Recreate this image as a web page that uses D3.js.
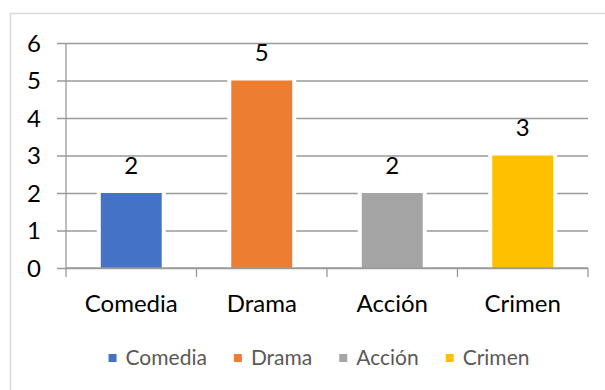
<!DOCTYPE html>
<html>
<head>
<meta charset="utf-8">
<script src="https://cdn.jsdelivr.net/npm/d3@7"></script>
<style>
  html, body { margin: 0; padding: 0; background: #fff; }
  svg { display: block; }
  text { font-family: Lato, "Open Sans", sans-serif; }
</style>
</head>
<body>
<svg id="chart" width="605" height="390"></svg>
<script>
// Genres and their counts
const categories = ["Comedia", "Drama", "Acción", "Crimen"];
const values = [2, 5, 2, 3];
const colors = ["#4472C4", "#ED7D31", "#A5A5A5", "#FFC000"];
const yTicks = [0, 1, 2, 3, 4, 5, 6];

const svg = d3.select("#chart");
const W = 605, H = 390;
const plot = { left: 66, right: 588, top: 43, bottom: 268 };

// Chart frame
svg.append("rect")
  .attr("x", 10.5).attr("y", 13.5)
  .attr("width", W + 20).attr("height", H + 20)
  .attr("fill", "#fff")
  .attr("stroke", "#d9d9d9").attr("stroke-width", 1.5);

const x = d3.scaleBand()
  .domain(categories)
  .range([plot.left, plot.right])
  .paddingInner(0.533)
  .paddingOuter(0.2665);

const y = d3.scaleLinear().domain([0, 6]).range([plot.bottom, plot.top]);

const gridColor = "#9a9a9a";

// Horizontal gridlines with left tick stubs and value labels
const yAxis = d3.axisLeft(y)
  .tickValues(yTicks)
  .tickSize(-(plot.right - plot.left) - 9)
  .tickPadding(0)
  .tickFormat(d3.format("d"));

const gy = svg.append("g")
  .attr("transform", `translate(${plot.right},0)`)
  .call(yAxis);
gy.select(".domain").remove();
gy.selectAll(".tick line")
  .attr("x1", 0)
  .attr("x2", -(plot.right - plot.left) - 9)
  .attr("stroke", gridColor).attr("stroke-width", 1.3);
gy.selectAll(".tick text").remove();

svg.append("g").selectAll("text")
  .data(yTicks)
  .join("text")
  .attr("x", 41)
  .attr("y", d => y(d) + 8.5)
  .attr("text-anchor", "end")
  .attr("font-size", 24)
  .attr("fill", "#000")
  .text(d => d);

// Bars: white halo behind, then coloured fill
const bars = svg.append("g");
bars.selectAll("rect.halo")
  .data(values)
  .join("rect")
  .attr("class", "halo")
  .attr("x", (d, i) => x(categories[i]) - 4)
  .attr("y", d => y(d) - 4)
  .attr("width", x.bandwidth() + 8)
  .attr("height", d => y(0) - y(d) + 4)
  .attr("fill", "#fff");
bars.selectAll("rect.bar")
  .data(values)
  .join("rect")
  .attr("class", "bar")
  .attr("x", (d, i) => x(categories[i]))
  .attr("y", d => y(d))
  .attr("width", x.bandwidth())
  .attr("height", d => y(0) - y(d))
  .attr("fill", (d, i) => colors[i]);

// Value labels
svg.append("g").selectAll("text")
  .data(values)
  .join("text")
  .attr("x", (d, i) => x(categories[i]) + x.bandwidth() / 2)
  .attr("y", d => y(d) - 19.5)
  .attr("text-anchor", "middle")
  .attr("font-size", 24)
  .attr("fill", "#000")
  .text(d => d);

// Vertical axis line
svg.append("line")
  .attr("x1", plot.left).attr("x2", plot.left)
  .attr("y1", plot.top).attr("y2", plot.bottom)
  .attr("stroke", gridColor).attr("stroke-width", 1.3);

// Category axis with ticks between categories
const xCat = d3.scaleBand().domain(categories).range([plot.left, plot.right]);
const bounds = categories.map(c => xCat(c)).concat([plot.right]);
const gx = svg.append("g");
gx.append("line")
  .attr("x1", plot.left).attr("x2", plot.right)
  .attr("y1", plot.bottom).attr("y2", plot.bottom)
  .attr("stroke", gridColor).attr("stroke-width", 1.3);
gx.selectAll("line.tick")
  .data(bounds)
  .join("line")
  .attr("class", "tick")
  .attr("x1", d => d).attr("x2", d => d)
  .attr("y1", plot.bottom).attr("y2", plot.bottom + 9)
  .attr("stroke", gridColor).attr("stroke-width", 1.3);
gx.selectAll("text")
  .data(categories)
  .join("text")
  .attr("x", d => xCat(d) + xCat.bandwidth() / 2)
  .attr("y", 312)
  .attr("text-anchor", "middle")
  .attr("font-size", 24)
  .attr("fill", "#000")
  .text(d => d);

// Legend
const legend = svg.append("g");
const items = legend.selectAll("g")
  .data(categories)
  .join("g");
items.append("rect")
  .attr("width", 8).attr("height", 8)
  .attr("y", 354)
  .attr("fill", (d, i) => colors[i]);
items.append("text")
  .attr("y", 365)
  .attr("font-size", 21)
  .attr("fill", "#595959")
  .text(d => d);
let cursor = 0;
const positions = [];
items.each(function () {
  const w = d3.select(this).select("text").node().getComputedTextLength();
  positions.push(cursor);
  cursor += 8 + 9 + w + 27;
});
const total = cursor - 27;
const start = 319 - total / 2;
items.each(function (d, i) {
  const g = d3.select(this);
  g.select("rect").attr("x", start + positions[i]);
  g.select("text").attr("x", start + positions[i] + 17);
});
</script>
</body>
</html>
